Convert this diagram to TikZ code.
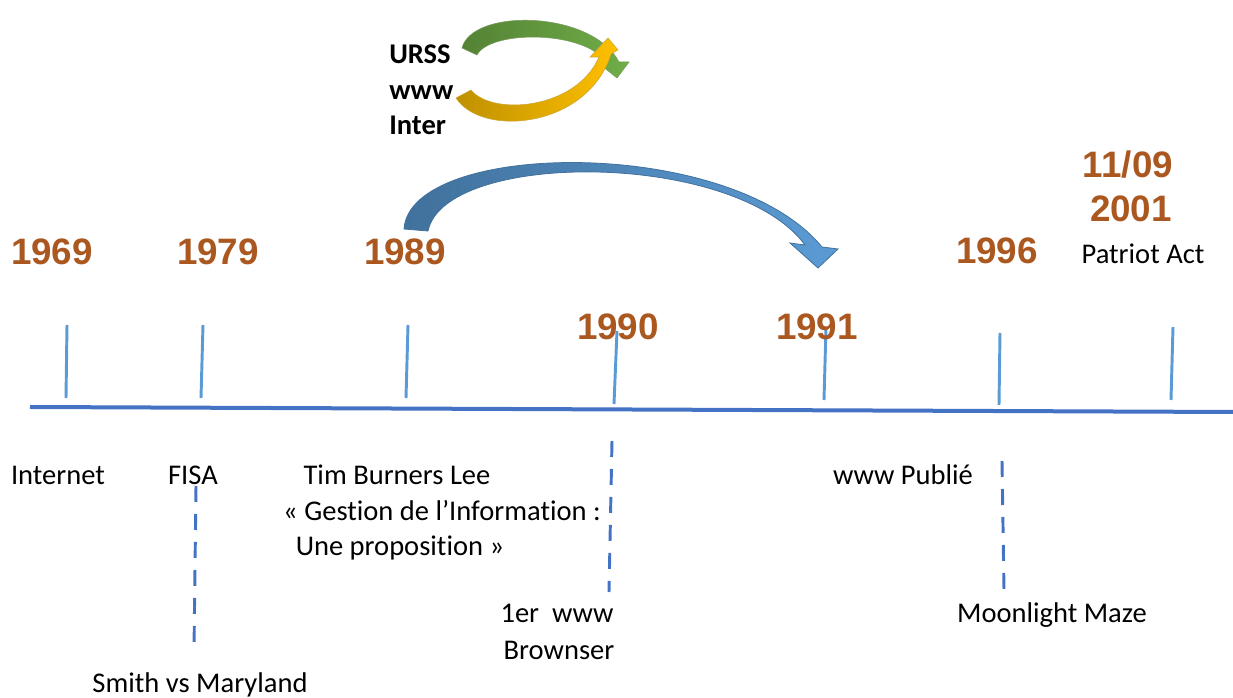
\documentclass[tikz,border=0pt]{standalone}
\usepackage{fontspec}
\setmainfont{Carlito}[Ligatures=NoCommon]
\newfontfamily\yearfont{Liberation Sans}
\usetikzlibrary{arrows.meta}
\definecolor{yearbrown}{RGB}{170,88,32}
\definecolor{axisblue}{RGB}{68,114,196}
\definecolor{tickblue}{RGB}{91,155,213}
\definecolor{bowdark}{RGB}{65,113,156}
\definecolor{greendark}{RGB}{84,130,53}
\definecolor{greenlight}{RGB}{112,173,71}
\definecolor{golddark}{RGB}{191,144,0}
\definecolor{goldlight}{RGB}{255,192,0}

\begin{document}
\begin{tikzpicture}[x=0.75pt, y=-0.75pt,
    yearlabel/.style={anchor=base, inner sep=0pt, text=yearbrown, font=\yearfont\bfseries\fontsize{27.6}{33}\selectfont},
    eventlabel/.style={anchor=base, inner sep=0pt, font=\fontsize{21.4}{26}\selectfont},
    toplabel/.style={eventlabel, anchor=base west, font=\bfseries\fontsize{21.4}{26}\selectfont},
    axisline/.style={draw=axisblue, line width=3pt},
    tickline/.style={draw=tickblue, line width=2.2pt},
    dashline/.style={draw=axisblue, line width=2.2pt, dash pattern=on 12pt off 9pt}
]
\useasboundingbox (0,0) rectangle (1233,698);

% axis and ticks
\coordinate (axisL) at (30,407);
\coordinate (axisR) at (1233,412);
\draw[axisline] (axisL) -- (axisR);
\foreach \xa/\ya/\xb/\yb in {67/325/66/398, 203/325/201/398, 408/325/406/398, 617/331/614/404,
    826/327/824/400, 1000/333/999/405, 1173/327/1171/400}
  \draw[tickline] (\xa,\ya) -- (\xb,\yb);

% years
\node[yearlabel] (y1969) at (52,265) {1969};
\node[yearlabel] (y1979) at (218,265) {1979};
\node[yearlabel] (y1989) at (405,265) {1989};
\node[yearlabel] (y1990) at (618,340) {1990};
\node[yearlabel] (y1991) at (817,340) {1991};
\node[yearlabel] (y1996) at (997,264) {1996};
\node[yearlabel] (y0911) at (1128,178) {11/09};
\node[yearlabel] (y2001) at (1131,222) {2001};
\node[eventlabel] (patriot) at (1143,264) {Patriot Act};

% events under the axis
\node[eventlabel] (internet) at (58,485) {Internet};
\node[eventlabel] (fisa) at (193,485) {FISA};
\node[eventlabel] (tbl) at (397,485) {Tim Burners Lee};
\node[eventlabel] (gestion) at (442,521) {« Gestion de l’Information :};
\node[eventlabel] (propos) at (400,556) {Une proposition »};
\node[eventlabel] (publie) at (903,485) {www Publié};
\node[eventlabel] (browser1) at (557,623) {1er~ www};
\node[eventlabel] (browser2) at (559,660) {Brownser};
\node[eventlabel] (moon) at (1052,623) {Moonlight Maze};
\node[eventlabel] (smith) at (200,692) {Smith vs Maryland};

\draw[dashline] (612,441) -- (609,592);
\draw[dashline] (196,486) -- (194,650);
\draw[dashline] (1002,461) -- (1004,590);

% top left
\node[toplabel] (urss) at (389,64) {URSS};
\node[toplabel] (www) at (389,100) {www};
\node[toplabel] (inter) at (389,135) {Inter};

% circular arrows
\shade[left color=greendark, right color=greenlight, draw=greendark!80, line width=0.4pt]
  (462,48) .. controls (472,8) and (592,10) .. (619,62) -- (629,62) -- (617,78) -- (597,62) --
  (606,62) .. controls (584,30) and (490,30) .. (477,55) -- cycle;
\shade[left color=golddark, right color=goldlight, draw=golddark!80, line width=0.4pt]
  (456,98) .. controls (482,138) and (588,128) .. (611,54) -- (618,50) -- (608,38) -- (590,57) --
  (599,57) .. controls (576,110) and (492,116) .. (471,90) -- cycle;

% big arrow 1989 -> 1991
\shade[left color=bowdark, right color=tickblue, draw=bowdark, line width=0.6pt]
  (404,229) .. controls (410,140) and (730,135) .. (822,247) -- (838,249) -- (818,268) -- (790,243) --
  (805,245) .. controls (735,150) and (445,150) .. (428,231) -- cycle;

\end{tikzpicture}
\end{document}
